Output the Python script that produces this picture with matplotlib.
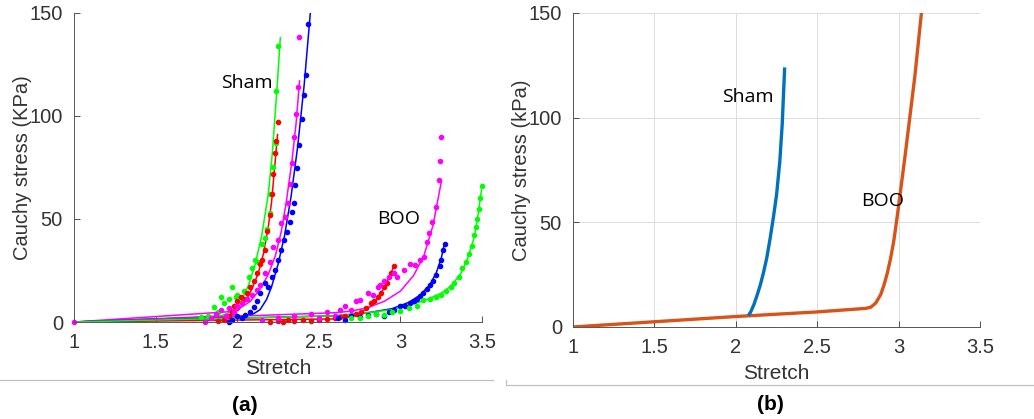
import matplotlib.pyplot as plt
from matplotlib.lines import Line2D


# Panel (a): measured points and model fits, Sham and BOO groups
SHAM_GREEN_PTS_X = [1.78, 1.82, 1.86, 1.88, 1.9, 1.92, 1.95, 1.97, 1.99, 2.0, 2.02, 2.04, 2.07,
                    2.09, 2.11, 2.13, 2.15, 2.17, 2.18, 2.2, 2.2, 2.22, 2.235, 2.24, 2.25]
SHAM_GREEN_PTS_Y = [2.6, 3, 7.4, 5, 12, 9, 11, 17, 12, 13, 12, 15, 22,
                    26, 30, 29, 38, 41, 45, 53, 62, 75, 87, 112, 134]

SHAM_RED_PTS_X = [1.88, 1.92, 1.95, 1.97, 1.98, 2.0, 2.02, 2.04, 2.06, 2.08, 2.1, 2.12,
                  2.14, 2.15, 2.17, 2.18, 2.2, 2.21, 2.22, 2.23, 2.24, 2.25]
SHAM_RED_PTS_Y = [0.5, 1, 3, 5, 8, 10, 12, 11, 14, 17, 20, 24,
                  28, 30, 35, 44, 52, 62, 72, 82, 88, 97]

SHAM_MAGENTA_PTS_X = [1.8, 1.84, 1.87, 1.9, 1.93, 1.95, 1.98, 2.0, 2.03, 2.06, 2.09, 2.12,
                      2.14, 2.17, 2.2, 2.22, 2.25, 2.27, 2.295, 2.31, 2.325, 2.335, 2.35,
                      2.36, 2.37, 2.38]
SHAM_MAGENTA_PTS_Y = [0, 2, 4, 6, 3, 7, 5, 8, 9, 11, 13, 15.5,
                      18, 23.6, 29, 36.5, 40, 48, 51, 58, 67, 77, 90,
                      100.8, 114, 138.5]

SHAM_BLUE_PTS_X = [1.95, 1.97, 2.0, 2.03, 2.05, 2.08, 2.1, 2.12, 2.14, 2.17, 2.19, 2.21,
                   2.233, 2.25, 2.27, 2.284, 2.305, 2.325, 2.335, 2.345, 2.356, 2.366,
                   2.38, 2.397, 2.41, 2.42, 2.436]
SHAM_BLUE_PTS_Y = [0, 1, 3, 2, 3.4, 5, 7.4, 10, 14, 19, 17, 22,
                   25, 30, 35, 40, 43.8, 48.7, 53.5, 57.6, 66.5, 74.6,
                   86, 98.5, 110, 120, 144.6]

BOO_RED_PTS_X = [2.2, 2.25, 2.28, 2.31, 2.35, 2.4, 2.45, 2.5, 2.55, 2.6, 2.63, 2.66, 2.7,
                 2.73, 2.76, 2.79, 2.82, 2.84, 2.86, 2.88, 2.9, 2.92, 2.94, 2.96]
BOO_RED_PTS_Y = [0, 0.5, 0, 1, 0.5, 1, 0.5, 1, 1.5, 2, 2.5, 3, 3,
                 4, 5, 7, 9, 10, 12, 14, 17, 19, 24, 27]

BOO_MAGENTA_PTS_X = [2.15, 2.25, 2.35, 2.45, 2.5, 2.55, 2.6, 2.63, 2.66, 2.7, 2.73, 2.755,
                     2.8, 2.83, 2.86, 2.877, 2.9, 2.93, 2.96, 2.98, 3.02, 3.06, 3.09, 3.12,
                     3.143, 3.164, 3.174, 3.195, 3.215, 3.235, 3.245, 3.25]
BOO_MAGENTA_PTS_Y = [1, 2, 3, 4, 2, 5, 3, 5.8, 8, 6, 10, 10.7,
                     14, 13, 17, 18, 20, 22, 24, 22, 25, 28, 27.7, 30,
                     31.7, 39, 43, 48.7, 56, 69, 78, 90]

BOO_BLUE_PTS_X = [2.62, 2.66, 2.7, 2.75, 2.8, 2.85, 2.9, 2.93, 2.96, 3.0, 3.03, 3.06, 3.08,
                  3.1, 3.12, 3.14, 3.16, 3.18, 3.2, 3.22, 3.24, 3.25, 3.26, 3.27]
BOO_BLUE_PTS_Y = [2, 1, 3, 2.5, 3.5, 4, 3, 5, 6, 8, 8, 9, 10,
                  11, 12.5, 14, 16, 18, 20, 23, 27, 30, 35, 38]

BOO_GREEN_PTS_X = [2.7, 2.75, 2.8, 2.85, 2.9, 2.95, 3.0, 3.05, 3.1, 3.14, 3.18, 3.22, 3.25,
                   3.28, 3.31, 3.33, 3.36, 3.38, 3.4, 3.42, 3.44, 3.45, 3.46, 3.47, 3.48,
                   3.49, 3.5]
BOO_GREEN_PTS_Y = [2, 2, 3, 4, 3.5, 5, 5.5, 7, 8, 10.7, 11, 12, 13,
                   15, 17, 19, 22, 26, 29, 33, 37, 42, 46, 50, 55,
                   60, 66]

# fitted curves (stretch, stress) for panel (a)
SHAM_GREEN_FIT_X = [1, 1.9, 1.95, 1.99, 2.03, 2.07, 2.11, 2.15, 2.19, 2.215, 2.245, 2.264]
SHAM_GREEN_FIT_Y = [0, 3, 4.5, 7, 11, 18, 28, 42, 62, 82, 115, 138]
SHAM_RED_FIT_X = [1, 1.9, 1.96, 2.01, 2.05, 2.09, 2.13, 2.16, 2.19, 2.21, 2.229, 2.247]
SHAM_RED_FIT_Y = [0, 2, 3.5, 6, 10, 16, 24, 33, 46, 58, 75, 91]
SHAM_MAGENTA_FIT_X = [1, 1.95, 2.02, 2.08, 2.14, 2.19, 2.233, 2.27, 2.3, 2.335, 2.36, 2.382]
SHAM_MAGENTA_FIT_Y = [0, 5, 7, 10, 16, 23, 32, 44, 58, 78, 96, 117]
SHAM_BLUE_FIT_X = [1, 2.05, 2.1, 2.14, 2.18, 2.21, 2.25, 2.29, 2.33, 2.37, 2.41, 2.45]
SHAM_BLUE_FIT_Y = [0, 3, 4, 6, 11, 17, 28, 42, 61, 85, 115, 152]

BOO_RED_FIT_X = [1, 2.6, 2.68, 2.74, 2.8, 2.85, 2.9, 2.96]
BOO_RED_FIT_Y = [0, 1.5, 2.3, 3.8, 6.5, 10.5, 16.5, 27]
BOO_MAGENTA_FIT_X = [1, 2.6, 2.7, 2.8, 2.9, 3.0, 3.08, 3.143, 3.2, 3.25]
BOO_MAGENTA_FIT_Y = [0, 4.5, 5.3, 7, 10, 15, 22.5, 32, 47, 68]
BOO_BLUE_FIT_X = [1, 2.6, 2.8, 2.95, 3.05, 3.12, 3.18, 3.22, 3.25, 3.27]
BOO_BLUE_FIT_Y = [0, 3, 4.5, 6.5, 9.5, 13, 18, 24, 31, 38]
BOO_GREEN_FIT_X = [1, 2.6, 2.8, 2.95, 3.05, 3.15, 3.25, 3.31, 3.37, 3.41, 3.45, 3.47, 3.5]
BOO_GREEN_FIT_Y = [0, 3, 4.5, 6, 8, 10.5, 14, 17.5, 23.5, 30.5, 40.5, 49, 66]

# Panel (b): group mean curves
SHAM_MEAN_X = [2.077, 2.09, 2.11, 2.13, 2.15, 2.17, 2.19, 2.21, 2.23, 2.25, 2.27, 2.285, 2.3]
SHAM_MEAN_Y = [5.5, 7, 10.5, 15, 20, 26, 33, 42, 52, 63, 79, 97, 124]
BOO_MEAN_X = [1, 1.5, 2, 2.5, 2.8, 2.83, 2.86, 2.89, 2.91, 2.93, 2.95, 2.97, 2.99, 3.01,
              3.04, 3.07, 3.1, 3.14]
BOO_MEAN_Y = [0, 2.5, 5, 7.2, 8.9, 9.5, 11.5, 15.5, 20, 25.6, 32.5, 41, 52, 64,
              82, 101, 120, 150]

X_TICKS = [1, 1.5, 2, 2.5, 3, 3.5]
X_TICK_LABELS = ["1", "1.5", "2", "2.5", "3", "3.5"]
Y_TICKS = [0, 50, 100, 150]

GREEN = "#00ff00"
RED = "#ff0000"
MAGENTA = "#ff00ff"
BLUE = "#0000ff"
TICK_COLOR = "#333333"
NOTE_FONT = ["Open Sans", "DejaVu Sans"]

plt.rcParams["font.family"] = ["Liberation Sans", "DejaVu Sans"]


def style_axes(ax, ylabel, grid=False):
    """
    MATLAB-like axes: left/bottom spines only, inward ticks.
    """

    ax.set_xlim(1, 3.5)
    ax.set_ylim(0, 150)
    ax.set_xticks(X_TICKS)
    ax.set_xticklabels(X_TICK_LABELS)
    ax.set_yticks(Y_TICKS)

    for side in ["top", "right"]:
        ax.spines[side].set_visible(False)
    for side in ["left", "bottom"]:
        ax.spines[side].set_color("#555555")
        ax.spines[side].set_linewidth(0.7)

    ax.tick_params(direction="in", length=4, width=0.6, colors=TICK_COLOR,
                   labelsize=14.5, pad=8)
    ax.set_xlabel("Stretch", fontsize=15, color=TICK_COLOR, labelpad=5)
    ax.set_ylabel(ylabel, fontsize=14.5, color=TICK_COLOR, labelpad=-2)

    if grid:
        ax.grid(True, color="#dcdcdc", linewidth=0.7)
        ax.set_axisbelow(True)


fig = plt.figure(figsize=(10.34, 4.19), dpi=100)

# panel (a)
ax_a = fig.add_axes([0.0716, 0.2315, 0.3946, 0.7375])

fits = [
    (SHAM_GREEN_FIT_X, SHAM_GREEN_FIT_Y, GREEN),
    (SHAM_RED_FIT_X, SHAM_RED_FIT_Y, RED),
    (SHAM_MAGENTA_FIT_X, SHAM_MAGENTA_FIT_Y, MAGENTA),
    (SHAM_BLUE_FIT_X, SHAM_BLUE_FIT_Y, BLUE),
    (BOO_RED_FIT_X, BOO_RED_FIT_Y, RED),
    (BOO_MAGENTA_FIT_X, BOO_MAGENTA_FIT_Y, MAGENTA),
    (BOO_BLUE_FIT_X, BOO_BLUE_FIT_Y, BLUE),
    (BOO_GREEN_FIT_X, BOO_GREEN_FIT_Y, GREEN),
]
points = [
    (SHAM_GREEN_PTS_X, SHAM_GREEN_PTS_Y, GREEN),
    (SHAM_RED_PTS_X, SHAM_RED_PTS_Y, RED),
    (SHAM_MAGENTA_PTS_X, SHAM_MAGENTA_PTS_Y, MAGENTA),
    (SHAM_BLUE_PTS_X, SHAM_BLUE_PTS_Y, BLUE),
    (BOO_RED_PTS_X, BOO_RED_PTS_Y, RED),
    (BOO_MAGENTA_PTS_X, BOO_MAGENTA_PTS_Y, MAGENTA),
    (BOO_BLUE_PTS_X, BOO_BLUE_PTS_Y, BLUE),
    (BOO_GREEN_PTS_X, BOO_GREEN_PTS_Y, GREEN),
]

for x, y, color in fits:
    ax_a.plot(x, y, color=color, linewidth=1.1)
for x, y, color in points:
    ax_a.plot(x, y, ".", color=color, markersize=6, clip_on=False)
ax_a.plot([1], [0], ".", color=MAGENTA, markersize=6, clip_on=False)

ax_a.text(2.06, 116, "Sham", fontsize=14, family=NOTE_FONT, ha="center", va="center")
ax_a.text(2.99, 50, "BOO", fontsize=14, family=NOTE_FONT, ha="center", va="center")
style_axes(ax_a, "Cauchy stress (KPa)")

# panel (b)
ax_b = fig.add_axes([0.5542, 0.2196, 0.3936, 0.7494])
ax_b.plot(BOO_MEAN_X, BOO_MEAN_Y, color="#D95319", linewidth=2.4, solid_capstyle="butt")
ax_b.plot(SHAM_MEAN_X, SHAM_MEAN_Y, color="#0072BD", linewidth=2.4, solid_capstyle="butt")
ax_b.text(2.075, 110, "Sham", fontsize=14, family=NOTE_FONT, ha="center", va="center")
ax_b.text(2.9, 60, "BOO", fontsize=14, family=NOTE_FONT, ha="center", va="center")
style_axes(ax_b, "Cauchy stress (kPa)", grid=True)

# panel separators and captions
fig.add_artist(Line2D([0.0, 0.477], [1 - 380 / 419] * 2, color="#c0c0c0",
                      linewidth=0.9, transform=fig.transFigure))
fig.add_artist(Line2D([0.489, 0.489, 1.0], [1 - 380 / 419, 1 - 385 / 419, 1 - 385 / 419],
                      color="#c0c0c0", linewidth=0.9, transform=fig.transFigure))
fig.text(245 / 1034, 1 - 405 / 419, "(a)", fontsize=15, fontweight="bold",
         ha="center", va="center")
fig.text(770 / 1034, 1 - 404 / 419, "(b)", fontsize=15, fontweight="bold",
         ha="center", va="center")

plt.savefig("out.png", dpi=100)
plt.close()
